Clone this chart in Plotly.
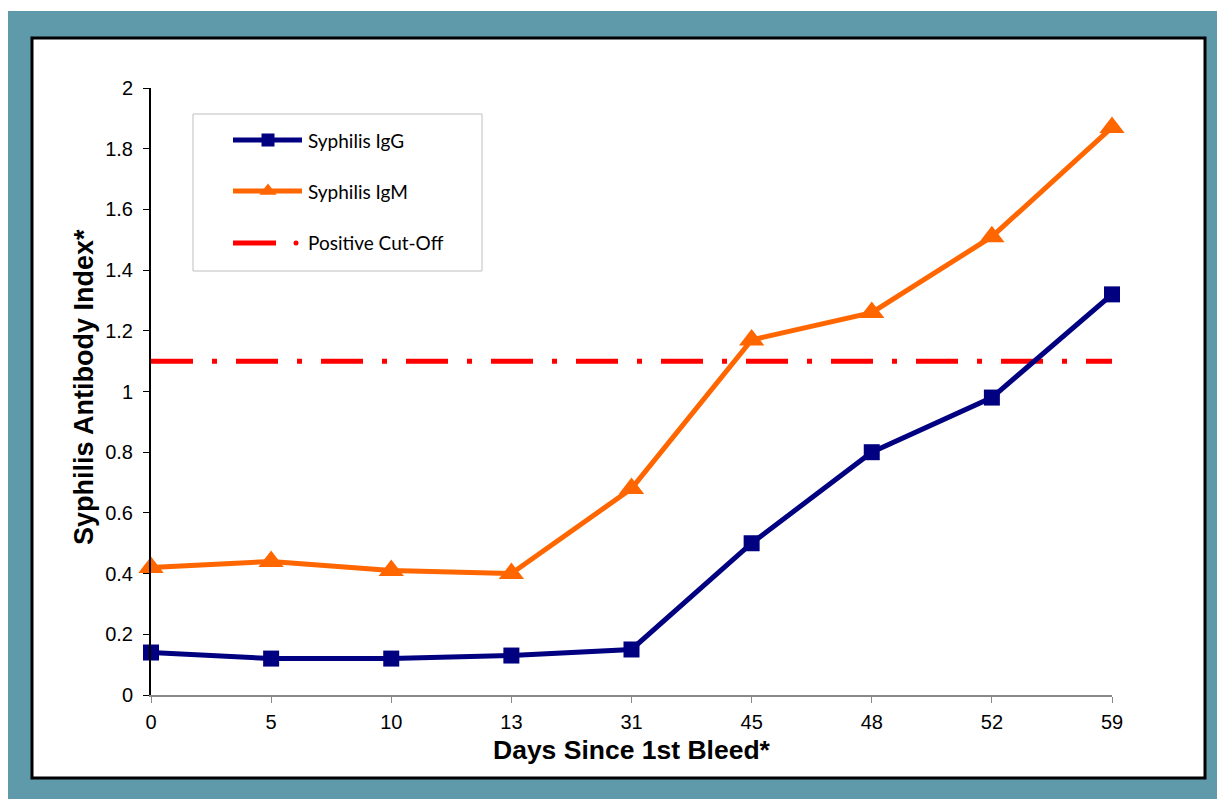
import plotly.graph_objects as go

days = ["0", "5", "10", "13", "31", "45", "48", "52", "59"]
igg = [0.14, 0.12, 0.12, 0.13, 0.15, 0.50, 0.80, 0.98, 1.32]
igm = [0.42, 0.44, 0.41, 0.40, 0.68, 1.17, 1.26, 1.51, 1.87]
cutoff = 1.1
series_names = ["Syphilis IgG", "Syphilis IgM", "Positive Cut-Off"]
y_ticks = [0, 0.2, 0.4, 0.6, 0.8, 1, 1.2, 1.4, 1.6, 1.8, 2]

OFF = 8  # page body margin
W, H = 1225 - OFF, 799 - OFF
L, R, T, B = 151 - OFF, 1112 - OFF, 88 - OFF, 695 - OFF
PW, PH = R - L, B - T

def px(x):
    return (x - OFF - L) / PW

def py(y):
    return (B - (y - OFF)) / PH

NAVY = "#000080"
ORANGE = "#FF6600"
RED = "#FF0000"
TEAL = "#5E9AAA"
FONT = "Liberation Sans, Arial, sans-serif"
LFONT = "Lato, sans-serif"

xi = list(range(len(days)))

fig = go.Figure()
fig.add_trace(go.Scatter(x=xi, y=[cutoff] * len(days), mode="lines",
                         line=dict(color=RED, width=5, dash="42px,19px,5px,19px"),
                         showlegend=False, hoverinfo="skip"))
fig.add_trace(go.Scatter(x=xi, y=igm, mode="lines+markers", name=series_names[1],
                         line=dict(color=ORANGE, width=5),
                         marker=dict(symbol="triangle-up", size=22, color=ORANGE),
                         showlegend=False, cliponaxis=False))
fig.add_trace(go.Scatter(x=xi, y=igg, mode="lines+markers", name=series_names[0],
                         line=dict(color=NAVY, width=5),
                         marker=dict(symbol="square", size=16, color=NAVY),
                         showlegend=False, cliponaxis=False))

# manual legend markers on overlay axes (0..1 over plot area)
leg_y = [140, 191, 243]
fig.add_trace(go.Scatter(x=[px(268)], y=[py(leg_y[0])], mode="markers", xaxis="x2", yaxis="y2",
                         marker=dict(symbol="square", size=13, color=NAVY),
                         showlegend=False, hoverinfo="skip", cliponaxis=False))
fig.add_trace(go.Scatter(x=[px(268)], y=[py(leg_y[1])], mode="markers", xaxis="x2", yaxis="y2",
                         marker=dict(symbol="triangle-up", size=15, color=ORANGE),
                         showlegend=False, hoverinfo="skip", cliponaxis=False))
fig.add_trace(go.Scatter(x=[px(296)], y=[py(leg_y[2])], mode="markers", xaxis="x2", yaxis="y2",
                         marker=dict(symbol="circle", size=5, color=RED),
                         showlegend=False, hoverinfo="skip", cliponaxis=False))

shapes = [
    dict(type="rect", xref="paper", yref="paper", x0=px(8), x1=px(1230), y0=py(805), y1=py(11),
         fillcolor=TEAL, line=dict(width=0), layer="below"),
    dict(type="rect", xref="paper", yref="paper", x0=px(32), x1=px(1205), y0=py(778), y1=py(38),
         fillcolor="white", line=dict(color="black", width=3), layer="below"),
    dict(type="rect", xref="paper", yref="paper", x0=px(193), x1=px(482), y0=py(271), y1=py(114),
         fillcolor="white", line=dict(color="#BFBFBF", width=1), layer="below"),
    dict(type="line", xref="paper", yref="paper", x0=px(233), x1=px(302), y0=py(leg_y[0]), y1=py(leg_y[0]),
         line=dict(color=NAVY, width=5), layer="below"),
    dict(type="line", xref="paper", yref="paper", x0=px(233), x1=px(302), y0=py(leg_y[1]), y1=py(leg_y[1]),
         line=dict(color=ORANGE, width=5), layer="below"),
    dict(type="line", xref="paper", yref="paper", x0=px(233), x1=px(276), y0=py(leg_y[2]), y1=py(leg_y[2]),
         line=dict(color=RED, width=5), layer="below"),
]

annotations = []
for name, yy in zip(series_names, leg_y):
    annotations.append(dict(xref="paper", yref="paper", x=px(306), y=py(yy), text=name,
                            showarrow=False, xanchor="left", yanchor="middle",
                            font=dict(family=LFONT, size=19, color="black")))
annotations.append(dict(xref="paper", yref="paper", x=px(632), y=py(750), text="<b>Days Since 1st Bleed*</b>",
                        showarrow=False, xanchor="center", yanchor="middle",
                        font=dict(family=FONT, size=26.5, color="black")))
annotations.append(dict(xref="paper", yref="paper", x=px(84), y=py(387), text="<b>Syphilis Antibody Index*</b>",
                        showarrow=False, xanchor="center", yanchor="middle", textangle=-90,
                        font=dict(family=FONT, size=27, color="black")))

fig.update_layout(
    width=W, height=H,
    margin=dict(l=L, r=W - R, t=T, b=H - B),
    paper_bgcolor="white",
    plot_bgcolor="rgba(0,0,0,0)",
    shapes=shapes,
    annotations=annotations,
    showlegend=False,
    xaxis=dict(range=[0, len(days) - 1], tickmode="array", tickvals=xi, ticktext=days,
               showgrid=False, zeroline=False, showline=True, linecolor="#888888", linewidth=2,
               ticks="outside", ticklen=6, tickcolor="#888888", tickwidth=1,
               tickfont=dict(family=FONT, size=20, color="black"), ticklabelstandoff=2),
    yaxis=dict(range=[0, 2], tickmode="array", tickvals=y_ticks,
               ticktext=[("%g" % v) for v in y_ticks],
               showgrid=False, zeroline=False, showline=True, linecolor="black", linewidth=2,
               ticks="outside", ticklen=6, tickcolor="black", tickwidth=1,
               tickfont=dict(family=FONT, size=20, color="black"), ticklabelstandoff=6),
    xaxis2=dict(overlaying="x", range=[0, 1], visible=False),
    yaxis2=dict(overlaying="y", range=[0, 1], visible=False),
    font=dict(family=FONT),
)

fig.write_html("out.html")
